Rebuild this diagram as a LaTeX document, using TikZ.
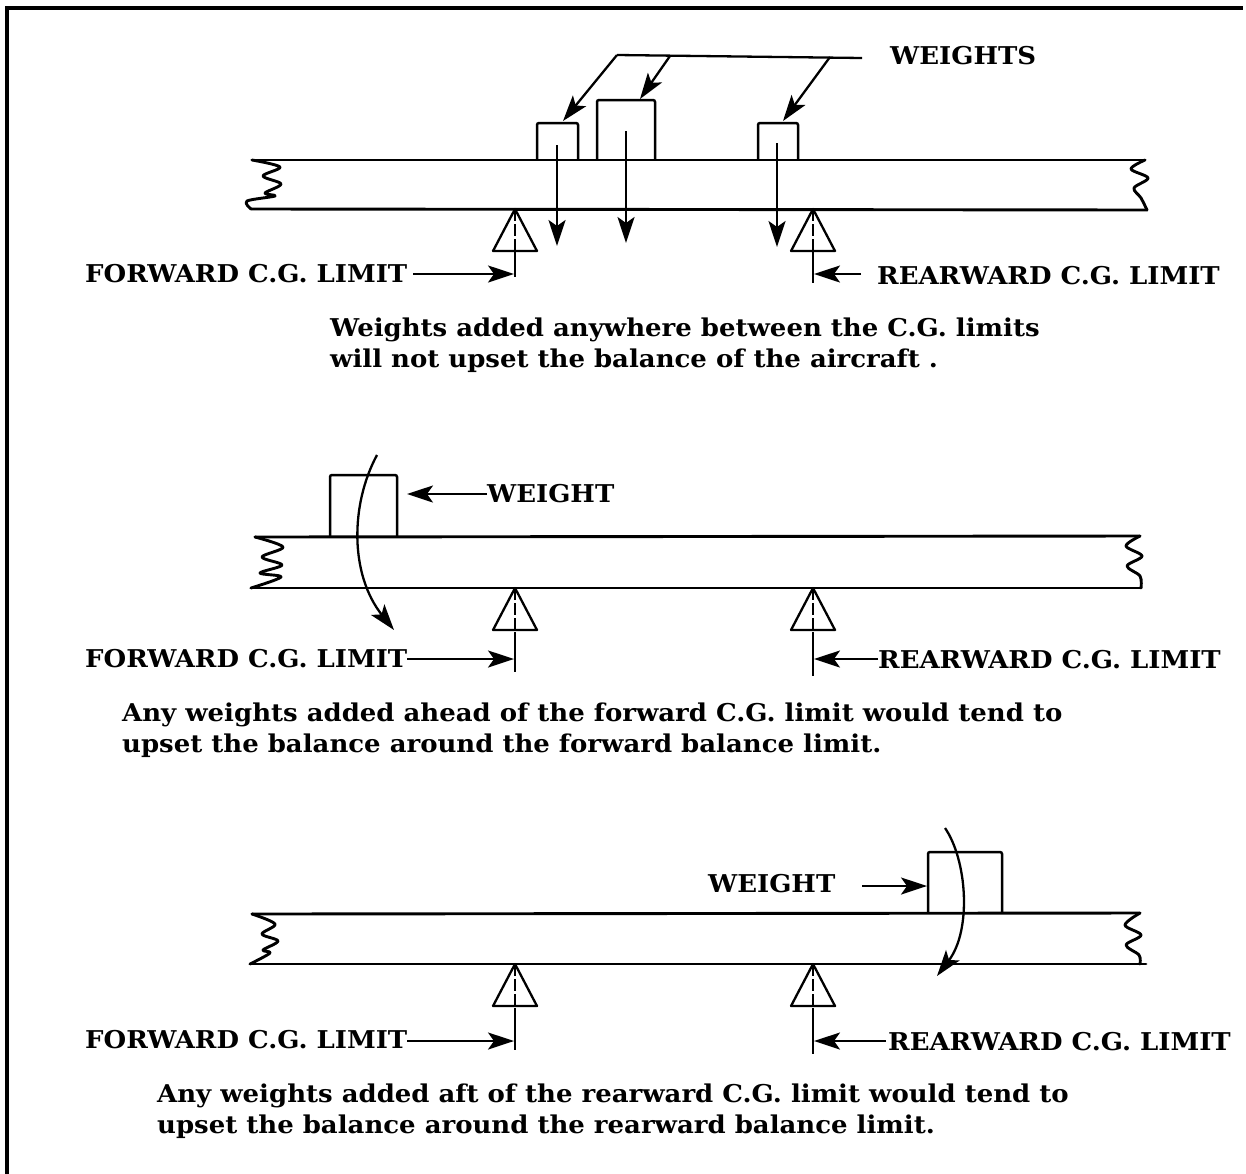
\documentclass[tikz,border=0pt]{standalone}
\usepackage{fontspec}
\setmainfont[FakeStretch=1.06]{DejaVu Serif}
\usetikzlibrary{arrows.meta}
\tikzset{
  beam/.style={line width=2.9pt, line join=round, line cap=round},
  thinln/.style={line width=2.3pt, line join=round},
  arr/.style={thinln, -{Stealth[length=26pt,width=17pt,inset=6pt]}},
  lbl/.style={font=\fontsize{24.5}{28}\selectfont\bfseries, inner sep=0pt, anchor=west},
  wbox/.style={line width=2.5pt, rounded corners=2pt},
  support/.pic={
    \draw[thinln] (-22,42) -- (0,0) -- (22,42) -- cycle;
    \draw[line width=1.7pt, dash pattern=on 12pt off 3pt] (0,0) -- (0,50);
  }
}
\begin{document}
\begin{tikzpicture}[x=1pt,y=-1pt]
\useasboundingbox (0,0) rectangle (1246,1173);
% frame
\draw[line width=3.5pt] (7,1175) -- (7,8) -- (1243,8);

% ================= PANEL 1 =================
\draw[beam] (252,160) -- (1145,160);
\draw[beam] (251,209) -- (1147,210);
\draw[beam] plot[smooth, tension=0.55] coordinates {(252,160)(280,167)(263,176)(281,184)(265,193)(275,196)(247,201)(251,209)};
\draw[beam] plot[smooth, tension=0.55] coordinates {(1145,160)(1131,169)(1148,178)(1134,188)(1141,198)(1147,210)};
% weights
\draw[wbox] (537,159) -- (537,123) -- (578,123) -- (578,159);
\draw[wbox] (597,159) -- (597,100) -- (655,100) -- (655,159);
\draw[wbox] (758,159) -- (758,123) -- (798,123) -- (798,159);
\node[lbl] (wts) at (890,56) {WEIGHTS};
\coordinate (la) at (617,55);
\coordinate (lb) at (670,56);
\coordinate (lc) at (830,57);
\coordinate (le) at (862,58);
\coordinate (w1) at (563,121);
\coordinate (w2) at (640,99);
\coordinate (w3) at (783,121);
\draw[thinln] (la) -- (le);
\draw[arr] (la) -- (w1);
\draw[arr] (lb) -- (w2);
\draw[arr] (lc) -- (w3);
% down arrows
\coordinate (d1a) at (557,145); \coordinate (d1b) at (557,246);
\coordinate (d2a) at (626,131); \coordinate (d2b) at (626,243);
\coordinate (d3a) at (777,143); \coordinate (d3b) at (777,247);
\draw[arr] (d1a) -- (d1b);
\draw[arr] (d2a) -- (d2b);
\draw[arr] (d3a) -- (d3b);
% supports
\pic at (515,209) {support};
\pic at (813,209) {support};
\draw[thinln] (515,252) -- (515,277);
\draw[thinln] (813,252) -- (813,283);
\coordinate (f1) at (514,274);
\coordinate (r1) at (814,274);
\node[lbl] (ft1) at (85,274) {FORWARD C.G. LIMIT};
\node[lbl] (rt1) at (877,276) {REARWARD C.G. LIMIT};
\draw[arr] ([xshift=6pt]ft1.east |- f1) -- (f1);
\draw[arr] ([xshift=-16pt]rt1.west |- r1) -- (r1);
\node[lbl] (c1a) at (330,330) {Weights added anywhere between the C.G. limits};
\node[lbl] (c1b) at (330,361) {will not upset the balance of the aircraft .};

% ================= PANEL 2 =================
\draw[beam] (255,537) -- (1140,536);
\draw[beam] (251,588) -- (1141,588);
\draw[beam] plot[smooth, tension=0.55] coordinates {(255,537)(283,547)(262,557)(282,565)(260,573)(281,577)(251,588)};
\draw[beam] plot[smooth, tension=0.55] coordinates {(1140,536)(1126,546)(1142,556)(1127,566)(1140,576)(1141,588)};
\draw[wbox] (330,536) -- (330,475) -- (397,475) -- (397,536);
\coordinate (cv2a) at (377,455);
\coordinate (cv2b) at (394,630);
\draw[arr] (cv2a) .. controls (350,505) and (350,575) .. (cv2b);
\node[lbl] (wt2) at (487,494) {WEIGHT};
\coordinate (wb2) at (407,494);
\draw[arr] (wt2.west) -- (wb2);
\pic at (515,588) {support};
\pic at (813,588) {support};
\draw[thinln] (515,632) -- (515,672);
\draw[thinln] (813,632) -- (813,676);
\coordinate (f2) at (514,659);
\coordinate (r2) at (814,659);
\node[lbl] (ft2) at (85,659) {FORWARD C.G. LIMIT};
\node[lbl] (rt2) at (878,660) {REARWARD C.G. LIMIT};
\draw[arr] (ft2.east |- f2) -- (f2);
\draw[arr] (rt2.west |- r2) -- (r2);
\node[lbl] (c2a) at (122,715) {Any weights added ahead of the forward C.G. limit would tend to};
\node[lbl] (c2b) at (122,746) {upset the balance around the forward balance limit.};

% ================= PANEL 3 =================
\draw[beam] (252,914) -- (1140,913);
\draw[beam] (250,964) -- (1146,964);
\draw[beam] plot[smooth, tension=0.55] coordinates {(252,914)(275,924)(262,934)(278,941)(263,950)(270,953)(250,964)};
\draw[beam] plot[smooth, tension=0.55] coordinates {(1140,913)(1125,925)(1141,935)(1126,945)(1139,955)(1140,964)};
\draw[wbox] (928,912) -- (928,852) -- (1002,852) -- (1002,912);
\coordinate (cv3a) at (945,828);
\coordinate (cv3b) at (937,976);
\draw[arr] (cv3a) .. controls (967,860) and (972,930) .. (cv3b);
\node[lbl] (wt3) at (708,884) {WEIGHT};
\coordinate (wa3) at (862,886);
\coordinate (wb3) at (927,886);
\draw[arr] (wa3) -- (wb3);
\pic at (515,964) {support};
\pic at (813,964) {support};
\draw[thinln] (515,1008) -- (515,1050);
\draw[thinln] (813,1008) -- (813,1054);
\coordinate (f3) at (514,1041);
\coordinate (r3) at (814,1041);
\node[lbl] (ft3) at (85,1040) {FORWARD C.G. LIMIT};
\node[lbl] (rt3) at (888,1042) {REARWARD C.G. LIMIT};
\draw[arr] (ft3.east |- f3) -- (f3);
\draw[arr] ([xshift=-2pt]rt3.west |- r3) -- (r3);
\node[lbl] (c3a) at (157,1096) {Any weights added aft of the rearward C.G. limit would tend to};
\node[lbl] (c3b) at (157,1127) {upset the balance around the rearward balance limit.};
\end{tikzpicture}
\end{document}
